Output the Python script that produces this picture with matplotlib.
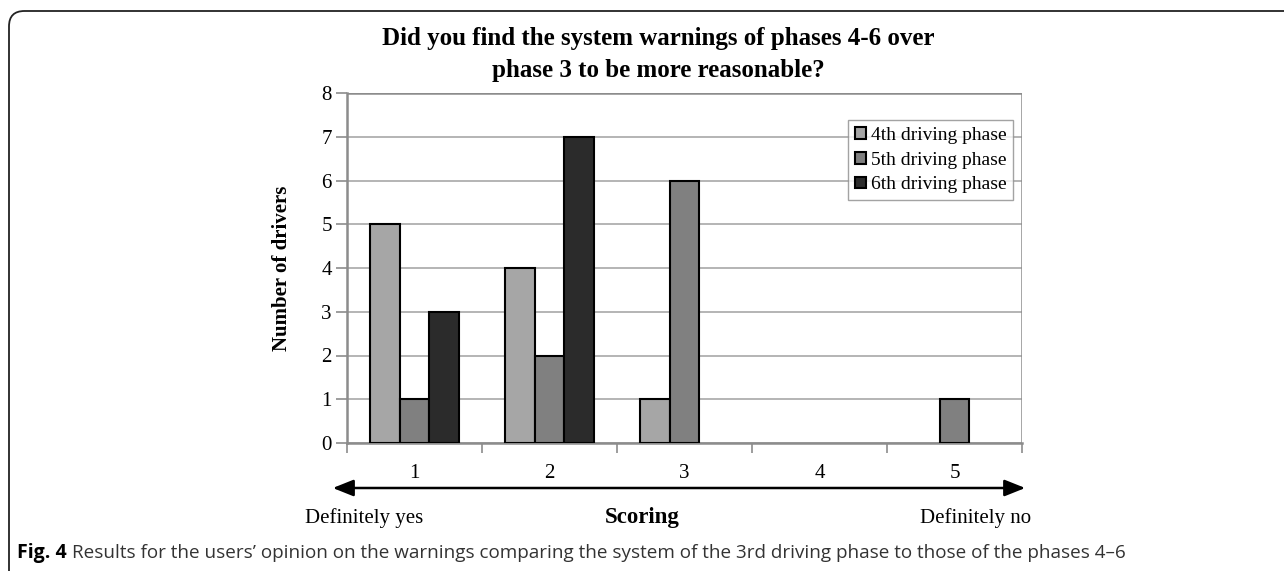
"""Grouped bar chart: driver opinion on system warnings, phases 4-6 vs phase 3."""

import matplotlib
matplotlib.use("Agg")
import matplotlib.pyplot as plt
import numpy as np
from matplotlib.patches import FancyArrowPatch, FancyBboxPatch

W_PX, H_PX = 1284, 571
DPI = 100

SERIF = ["Liberation Serif", "DejaVu Serif"]
CAPTION_FONT = ["Liberation Sans Narrow", "Open Sans", "DejaVu Sans"]

LIGHT = "#a6a6a6"
MID = "#808080"
DARK = "#2b2b2b"
AXIS_GRAY = "#8c8c8c"
GRID_GRAY = "#a0a0a0"

# data
scores = ["1", "2", "3", "4", "5"]
phase4 = [5, 4, 1, 0, 0]
phase5 = [1, 2, 6, 0, 1]
phase6 = [3, 7, 0, 0, 0]
series_labels = ["4th driving phase", "5th driving phase", "6th driving phase"]
series_colors = [LIGHT, MID, DARK]
y_ticks = list(range(0, 9))

TITLE_1 = "Did you find the system warnings of phases 4-6 over"
TITLE_2 = "phase 3 to be more reasonable?"
CAPTION = ("Results for the users\u2019 opinion on the warnings comparing the system "
           "of the 3rd driving phase to those of the phases 4\u20136")


def px(x, y):
    """Pixel position (from top-left) -> figure fraction."""
    return x / W_PX, 1 - y / H_PX


fig = plt.figure(figsize=(W_PX / DPI, H_PX / DPI), dpi=DPI)
fig.patch.set_facecolor("white")

# rounded frame round the figure, only top-left corner visible
frame = FancyBboxPatch(px(9, 800), 1400 / W_PX, (800 - 11) / H_PX,
                       boxstyle="round,pad=0,rounding_size=0.012",
                       transform=fig.transFigure, facecolor="none",
                       edgecolor="#222222", linewidth=1.3,
                       mutation_aspect=W_PX / H_PX)
fig.add_artist(frame)

l, b = px(347, 443)
r, t = px(1022, 93)
ax = fig.add_axes([l, b, r - l, t - b])

x = np.arange(len(scores))
bw = 0.222
for i, (vals, color, lab) in enumerate(zip([phase4, phase5, phase6],
                                           series_colors, series_labels)):
    vals = np.asarray(vals, dtype=float)
    keep = vals > 0  # empty categories draw nothing in the reference
    ax.bar(x[keep] + (i - 1) * bw, vals[keep], width=bw, color=color,
           edgecolor="black", linewidth=1.5, label=lab, zorder=3)

ax.set_xlim(-0.5, len(scores) - 0.5)
ax.set_ylim(0, 8)
ax.set_yticks(y_ticks)
ax.yaxis.grid(True, color=GRID_GRAY, linewidth=1.1, zorder=0)
ax.set_axisbelow(True)

# category boundaries as major ticks, labels at the centres
ax.set_xticks(np.arange(len(scores) + 1) - 0.5)
ax.set_xticklabels([])
ax.set_xticks(x, minor=True)
ax.set_xticklabels(scores, minor=True, fontsize=15, family=SERIF)
ax.tick_params(axis="x", which="major", length=7, width=1.2, color=AXIS_GRAY,
               direction="out")
ax.tick_params(axis="x", which="minor", length=0, pad=15)
ax.tick_params(axis="y", length=8, width=1.2, color=AXIS_GRAY, direction="out",
               labelsize=15, pad=3)
for lbl in ax.get_yticklabels():
    lbl.set_family(SERIF)

for side in ["top", "right"]:
    ax.spines[side].set_visible(False)
for side in ["left", "bottom"]:
    ax.spines[side].set_color(AXIS_GRAY)
    ax.spines[side].set_linewidth(1.8)
ax.axvline(len(scores) - 0.5, color=AXIS_GRAY, linewidth=1.8, zorder=1)
ax.axhline(8, color=AXIS_GRAY, linewidth=1.8, zorder=1)

ax.set_ylabel("Number of drivers", fontsize=15, fontweight="bold", family=SERIF)
ax.yaxis.set_label_coords((292 - 347) / 675, 0.5)

leg = ax.legend(loc="upper right", bbox_to_anchor=(0.9867, 0.923),
                prop={"family": SERIF, "size": 14}, frameon=True,
                fancybox=False, edgecolor=AXIS_GRAY, handlelength=0.55,
                handleheight=0.55, handletextpad=0.25, labelspacing=0.4,
                borderpad=0.35, borderaxespad=0)
leg.get_frame().set_linewidth(1.0)

fig.text(*px(658, 45), TITLE_1, ha="center", va="baseline", fontsize=18,
         fontweight="bold", family=SERIF)
fig.text(*px(658, 77), TITLE_2, ha="center", va="baseline", fontsize=18,
         fontweight="bold", family=SERIF)

arrow = FancyArrowPatch(px(330, 488), px(1028, 488), transform=fig.transFigure,
                        arrowstyle="<|-|>,head_length=0.9,head_width=0.36",
                        mutation_scale=14, color="black", linewidth=1.8)
fig.add_artist(arrow)

fig.text(*px(364, 523), "Definitely yes", ha="center", va="baseline",
         fontsize=15, family=SERIF)
fig.text(*px(642, 523), "Scoring", ha="center", va="baseline",
         fontsize=16.5, fontweight="bold", family=SERIF)
fig.text(*px(976, 523), "Definitely no", ha="center", va="baseline",
         fontsize=15, family=SERIF)

fig_lbl = fig.text(*px(17, 558), "Fig. 4", ha="left", va="baseline",
                   fontsize=14, fontweight="bold", family=CAPTION_FONT)
fig.canvas.draw()
ext = fig_lbl.get_window_extent()
fig.text((ext.x1 + 5) / W_PX, 1 - 558 / H_PX, CAPTION, ha="left",
         va="baseline", fontsize=13.6, family=CAPTION_FONT, color="#333333")

fig.savefig("out.png", dpi=DPI, facecolor="white")
